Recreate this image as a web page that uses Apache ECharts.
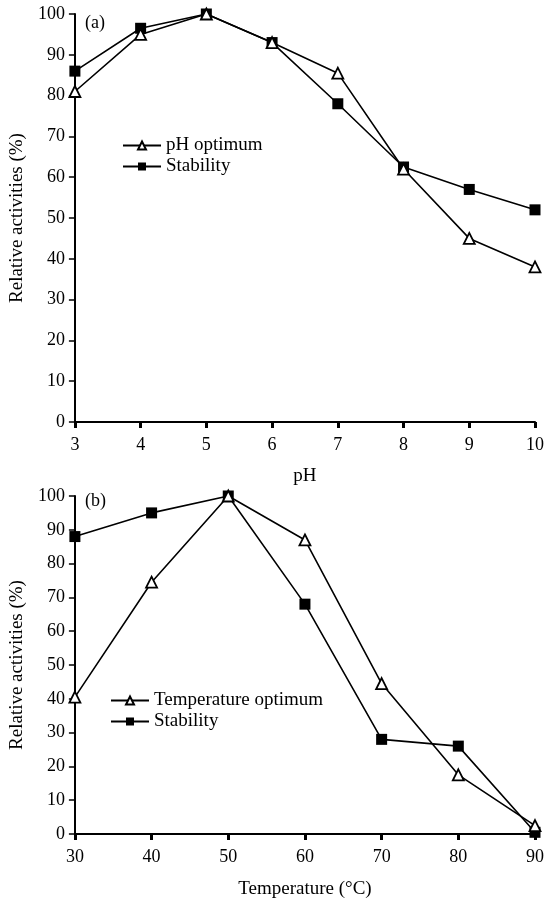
<!DOCTYPE html>
<html><head><meta charset="utf-8">
<script src="https://cdn.jsdelivr.net/npm/echarts@6/dist/echarts.min.js"></script>
<style>html,body{margin:0;padding:0;background:#fff}#c{width:547px;height:900px}</style>
</head><body><div id="c"></div>
<script>
const phValues = [3, 4, 5, 6, 7, 8, 9, 10];
const phOptimum = [81, 95, 100, 93, 85.5, 62, 45, 38];
const phStability = [86, 96.5, 100, 93, 78, 62.5, 57, 52];
const tempValues = [30, 40, 50, 60, 70, 80, 90];
const tempOptimum = [40.5, 74.5, 100, 87, 44.5, 17.5, 2.5];
const tempStability = [88, 95, 100, 68, 28, 26, 0.5];
const yTicks = [0, 10, 20, 30, 40, 50, 60, 70, 80, 90, 100];

const FONT = 'Liberation Serif';
const tick = {color: '#000', fontFamily: FONT, fontSize: 18};
const leg = {color: '#000', fontFamily: FONT, fontSize: 19};
function pairs(xs, ys) { return xs.map((x, i) => [x, ys[i]]); }

function xAxis(idx, min, max, interval, name, nameGap) {
  return {
    type: 'value', gridIndex: idx, min: min, max: max, interval: interval,
    name: name, nameLocation: 'middle', nameGap: nameGap,
    nameTextStyle: {color: '#000', fontFamily: FONT, fontSize: 19},
    axisLine: {show: true, lineStyle: {color: '#000', width: 2}},
    axisTick: {show: true, inside: false, length: 6, lineStyle: {color: '#000', width: 3}},
    axisLabel: Object.assign({margin: 14}, tick),
    splitLine: {show: false}
  };
}
function yAxis(idx) {
  return {
    type: 'value', gridIndex: idx, min: yTicks[0], max: yTicks[yTicks.length - 1], interval: 10,
    name: 'Relative activities (%)', nameLocation: 'middle', nameGap: 40,
    nameTextStyle: {color: '#000', fontFamily: FONT, fontSize: 19},
    axisLine: {show: true, lineStyle: {color: '#000', width: 2}},
    axisTick: {show: true, inside: false, length: 6, lineStyle: {color: '#000', width: 1.5}},
    axisLabel: Object.assign({margin: 10}, tick),
    splitLine: {show: false}
  };
}
const triStyle = {color: '#fff', borderColor: '#000', borderWidth: 1.8};
const sqStyle = {color: '#000', borderColor: '#000', borderWidth: 0};
function series(name, xi, data, tri) {
  return {
    name: name, type: 'line', xAxisIndex: xi, yAxisIndex: xi, data: data,
    symbol: tri ? 'triangle' : 'rect', symbolSize: 11,
    showAllSymbol: true, clip: false,
    lineStyle: {color: '#000', width: 1.6},
    itemStyle: tri ? triStyle : sqStyle,
    z: tri ? 3 : 2
  };
}

const chart = echarts.init(document.getElementById('c'), null, {renderer: 'canvas'});
chart.setOption({
  animation: false,
  backgroundColor: '#fff',
  grid: [
    {left: 74, right: 7, top: 14, bottom: 478},
    {left: 74, right: 7, top: 496, bottom: 65}
  ],
  xAxis: [
    xAxis(0, phValues[0], phValues[phValues.length - 1], 1, 'pH', 45),
    xAxis(1, tempValues[0], tempValues[tempValues.length - 1], 10, 'Temperature (°C)', 46)
  ],
  yAxis: [yAxis(0), yAxis(1)],
  legend: [
    {orient: 'vertical', left: 122, top: 136, itemGap: 2, itemWidth: 38, itemHeight: 10, padding: 0,
     textStyle: leg, data: ['pH optimum', 'Stability ']},
    {orient: 'vertical', left: 110, top: 691, itemGap: 2, itemWidth: 38, itemHeight: 10, padding: 0,
     textStyle: leg, data: ['Temperature optimum', 'Stability  ']}
  ],
  graphic: [
    {type: 'text', left: 85, top: 14, style: {text: '(a)', fill: '#000', font: '18px "Liberation Serif"'}},
    {type: 'text', left: 85, top: 492, style: {text: '(b)', fill: '#000', font: '18px "Liberation Serif"'}}
  ],
  series: [
    series('Stability ', 0, pairs(phValues, phStability), false),
    series('pH optimum', 0, pairs(phValues, phOptimum), true),
    series('Stability  ', 1, pairs(tempValues, tempStability), false),
    series('Temperature optimum', 1, pairs(tempValues, tempOptimum), true)
  ]
});
</script></body></html>
